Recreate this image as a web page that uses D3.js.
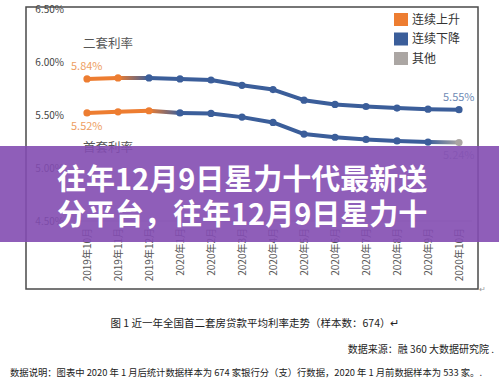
<!DOCTYPE html>
<html lang="zh">
<head>
<meta charset="utf-8">
<title>近一年全国首二套房贷款平均利率走势</title>
<script src="https://cdnjs.cloudflare.com/ajax/libs/d3/7.8.5/d3.min.js"></script>
<style>
  html, body { margin: 0; padding: 0; background: #fff; }
  svg text { font-family: "Noto Sans CJK SC", "Noto Sans", sans-serif; }
</style>
</head>
<body>
<div id="chart"></div>
<script>
// months on the x axis
var months = ["2019年10月", "2019年11月", "2019年12月", "2020年1月", "2020年2月", "2020年3月",
  "2020年4月", "2020年5月", "2020年6月", "2020年7月", "2020年8月", "2020年9月", "2020年10月"];
// second-home rate (%)
var secondRate = [5.84, 5.85, 5.85, 5.84, 5.83, 5.78, 5.74, 5.64, 5.60, 5.58, 5.565, 5.555, 5.55];
// first-home rate (%)
var firstRate = [5.52, 5.53, 5.54, 5.52, 5.515, 5.48, 5.43, 5.32, 5.29, 5.27, 5.255, 5.245, 5.24];
// colour class of each point: up / down / other
var secondKind = ["up", "up", "down", "down", "down", "down", "down", "down", "down", "down", "down", "down", "down"];
var firstKind = ["up", "up", "up", "down", "down", "down", "down", "down", "down", "down", "down", "down", "other"];
var yTicks = [4.5, 5.0, 5.5, 6.0, 6.5];
var legendItems = [["up", "连续上升"], ["down", "连续下降"], ["other", "其他"]];

var width = 499, height = 388;
var colors = { up: "#ED7D31", down: "#3B5E9A", other: "#ABA6A3" };

var svg = d3.select("#chart").append("svg")
  .attr("width", width)
  .attr("height", height);
var defs = svg.append("defs");

var x = d3.scalePoint().domain(months).range([87, 459]);
var y = d3.scaleLinear().domain([4.5, 6.5]).range([221, 9]);

// frame
svg.append("rect")
  .attr("x", 26).attr("y", 7)
  .attr("width", 452).attr("height", 282)
  .attr("fill", "none")
  .attr("stroke", "#4a4a4a")
  .attr("stroke-width", 1.5);
svg.append("text")
  .attr("x", 479).attr("y", 292)
  .attr("font-size", 8).attr("fill", "#999")
  .text("↵");

// baseline at 4.50%
svg.append("line")
  .attr("x1", 66).attr("x2", 472)
  .attr("y1", y(4.5)).attr("y2", y(4.5))
  .attr("stroke", "#d0d0d0").attr("stroke-width", 1);

// y tick labels
svg.selectAll(".ytick")
  .data(yTicks)
  .enter().append("text")
  .attr("class", "ytick")
  .attr("x", 64)
  .attr("y", function(d) { return y(d); })
  .attr("dy", "0.35em")
  .attr("text-anchor", "end")
  .attr("font-size", 10)
  .attr("fill", "#444")
  .text(function(d) { return d.toFixed(2) + "%"; });

// x tick labels (rotated)
svg.selectAll(".xtick")
  .data(months)
  .enter().append("text")
  .attr("class", "xtick")
  .attr("transform", function(d) { return "translate(" + (x(d) + 3.5) + ",228) rotate(-90)"; })
  .attr("text-anchor", "end")
  .attr("font-size", 10)
  .attr("fill", "#555")
  .text(function(d) { return d; });

var gradId = 0;
function drawSeries(values, kinds) {
  var g = svg.append("g");
  for (var i = 0; i < values.length - 1; i++) {
    var x1 = x(months[i]), x2 = x(months[i + 1]);
    var c1 = colors[kinds[i]], c2 = colors[kinds[i + 1]];
    var stroke = c1;
    if (c1 != c2) {
      var id = "grad" + (gradId++);
      var grad = defs.append("linearGradient")
        .attr("id", id)
        .attr("gradientUnits", "userSpaceOnUse")
        .attr("x1", x1).attr("x2", x2)
        .attr("y1", 0).attr("y2", 0);
      grad.append("stop").attr("offset", "0%").attr("stop-color", c1);
      grad.append("stop").attr("offset", "100%").attr("stop-color", c2);
      stroke = "url(#" + id + ")";
    }
    g.append("line")
      .attr("x1", x1).attr("y1", y(values[i]))
      .attr("x2", x2).attr("y2", y(values[i + 1]))
      .attr("stroke", stroke)
      .attr("stroke-width", 4)
      .attr("stroke-linecap", "round");
  }
  g.selectAll("circle")
    .data(values)
    .enter().append("circle")
    .attr("cx", function(d, i) { return x(months[i]); })
    .attr("cy", function(d) { return y(d); })
    .attr("r", 3.6)
    .attr("fill", function(d, i) { return colors[kinds[i]]; });
}
drawSeries(secondRate, secondKind);
drawSeries(firstRate, firstKind);

// series names
svg.append("text").attr("x", 83).attr("y", 44).attr("dy", "0.35em")
  .attr("font-size", 12.5).attr("fill", "#555").text("二套利率");
svg.append("text").attr("x", 83).attr("y", 148).attr("dy", "0.35em")
  .attr("font-size", 12.5).attr("fill", "#555").text("首套利率");

// value labels
function valueLabel(v, xPos, yPos, color) {
  svg.append("text")
    .attr("x", xPos).attr("y", yPos).attr("dy", "0.35em")
    .attr("font-size", 11).attr("fill", color)
    .text(v.toFixed(2) + "%");
}
valueLabel(secondRate[0], 71, y(secondRate[0]) - 13, "#EE9E62");
valueLabel(firstRate[0], 71, y(firstRate[0]) + 13, "#EE9E62");
valueLabel(secondRate[12], 443, y(secondRate[12]) - 13, "#6F8BB5");
valueLabel(firstRate[12], 443, y(firstRate[12]) + 13, "#9AA5B8");

// legend
var legend = svg.selectAll(".legend")
  .data(legendItems)
  .enter().append("g")
  .attr("class", "legend")
  .attr("transform", function(d, i) { return "translate(394," + (13 + i * 19.5) + ")"; });
legend.append("rect")
  .attr("width", 14).attr("height", 13)
  .attr("fill", function(d) { return colors[d[0]]; });
legend.append("text")
  .attr("x", 18).attr("y", 6.5).attr("dy", "0.35em")
  .attr("font-size", 12).attr("fill", "#333")
  .text(function(d) { return d[1]; });

// captions
svg.append("text").attr("x", 255).attr("y", 323).attr("dy", "0.35em")
  .attr("text-anchor", "middle").attr("font-size", 10.5).attr("fill", "#222")
  .text("图 1  近一年全国首二套房贷款平均利率走势（样本数：674）↵");
svg.append("text").attr("x", 494).attr("y", 349).attr("dy", "0.35em")
  .attr("text-anchor", "end").attr("font-size", 10).attr("fill", "#222")
  .text("数据来源：融 360 大数据研究院 .");
svg.append("text").attr("x", 10).attr("y", 373).attr("dy", "0.35em")
  .attr("font-size", 9.5).attr("fill", "#222")
  .attr("textLength", 472).attr("lengthAdjust", "spacingAndGlyphs")
  .text("数据说明：图表中 2020 年 1 月后统计数据样本为 674 家银行分（支）行数据，2020 年 1 月前数据样本为 533 家。.");

// purple title banner
svg.append("rect")
  .attr("x", 0).attr("y", 146)
  .attr("width", width).attr("height", 96)
  .attr("fill", "#834DB1")
  .attr("fill-opacity", 0.9);
var titleLines = ["往年12月9日星力十代最新送", "分平台，往年12月9日星力十"];
svg.selectAll(".title")
  .data(titleLines)
  .enter().append("text")
  .attr("class", "title")
  .attr("x", 57)
  .attr("y", function(d, i) { return 190 + i * 35; })
  .attr("font-size", 29)
  .attr("font-weight", "bold")
  .attr("fill", "#fff")
  .text(function(d) { return d; });
</script>
</body>
</html>
